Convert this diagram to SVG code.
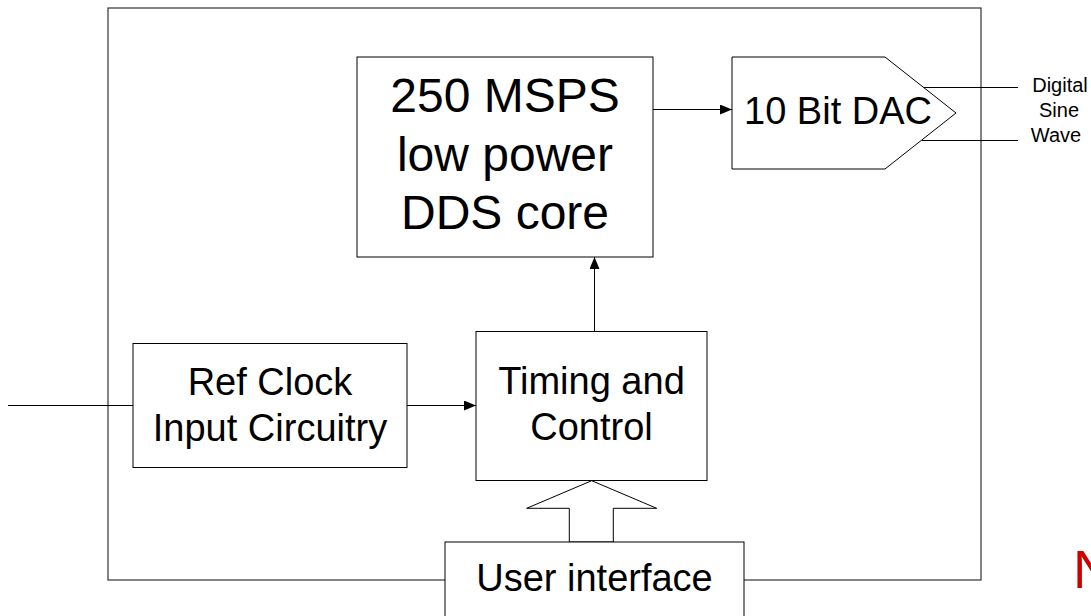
<svg xmlns="http://www.w3.org/2000/svg" width="1091" height="616" viewBox="0 0 1091 616">
<style>
.box{fill:#fff;stroke:#000;stroke-width:1}
.ln{fill:none;stroke:#000;stroke-width:1}
.t{font-family:"Liberation Sans",Arial,sans-serif;fill:#000;text-anchor:middle}
</style>
<defs>
<marker id="ah" viewBox="0 0 12 10" refX="12" refY="5" markerWidth="12" markerHeight="10" markerUnits="userSpaceOnUse" orient="auto">
<path d="M0,0 L12,5 L0,10 Z" fill="#000"/>
</marker>
</defs>
<rect width="1091" height="616" fill="#fff"/>
<g id="outer">
<rect x="108" y="8" width="873" height="572" fill="none" stroke="#333" stroke-width="1.2"/>
</g>
<g id="connectors">
<line class="ln" x1="8" y1="405.5" x2="133" y2="405.5" stroke="#444"/>
<line class="ln" x1="407" y1="405.5" x2="476" y2="405.5" marker-end="url(#ah)"/>
<line class="ln" x1="594.5" y1="331" x2="594.5" y2="257" marker-end="url(#ah)"/>
<line class="ln" x1="653" y1="109.5" x2="732" y2="109.5" marker-end="url(#ah)"/>
<line class="ln" x1="924" y1="87.5" x2="1018" y2="87.5"/>
<line class="ln" x1="922" y1="140.5" x2="1018" y2="140.5"/>
<polygon class="box" points="591.7,480.7 656.7,508.3 613.3,508.3 613.3,542 569.3,542 569.3,508.3 526.7,508.3"/>
</g>
<g id="dds">
<rect class="box" x="357" y="57" width="296" height="200"/>
<text class="t" font-size="48" x="505" y="112">250 MSPS</text>
<text class="t" font-size="48" x="505" y="170.5">low power</text>
<text class="t" font-size="48" x="505" y="229">DDS core</text>
</g>
<g id="dac">
<polygon class="box" points="732,57 885,57 956,113 885,169 732,169"/>
<text class="t" font-size="38" x="838" y="124">10 Bit DAC</text>
</g>
<g id="refclock">
<rect class="box" x="133" y="343.5" width="274" height="124"/>
<text class="t" font-size="38" x="270" y="394.5">Ref Clock</text>
<text class="t" font-size="38" x="270" y="440.5">Input Circuitry</text>
</g>
<g id="timing">
<rect class="box" x="476" y="331.5" width="231" height="149"/>
<text class="t" font-size="38" x="591.5" y="394">Timing and</text>
<text class="t" font-size="38" x="591.5" y="440">Control</text>
</g>
<g id="userif">
<rect class="box" x="445" y="542" width="299" height="90"/>
<text class="t" font-size="38" x="594.5" y="591">User interface</text>
</g>
<g id="output-label">
<text class="t" font-size="20" x="1060" y="92">Digital</text>
<text class="t" font-size="20" x="1059" y="117">Sine</text>
<text class="t" font-size="20" x="1056" y="142">Wave</text>
</g>
<g id="red-n">
<text font-family="'Liberation Sans',Arial,sans-serif" font-size="54" fill="#cc0000" x="1073" y="588">N</text>
</g>
</svg>
